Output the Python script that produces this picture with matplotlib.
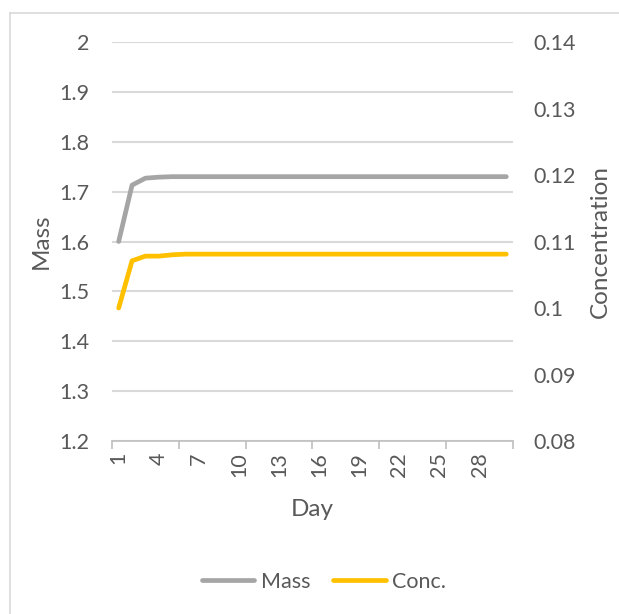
import matplotlib
matplotlib.use("Agg")
import matplotlib.pyplot as plt
from matplotlib.lines import Line2D
from matplotlib.ticker import FixedLocator, FuncFormatter

plt.rcParams['font.family'] = ['Lato', 'DejaVu Sans']

days = list(range(1, 31))
mass = [1.600, 1.713, 1.727, 1.729, 1.730] + [1.730] * 25
conc = [0.1000, 0.1071, 0.1078, 0.1078, 0.1080] + [0.1081] * 25
day_labels = [1, 4, 7, 10, 13, 16, 19, 22, 25, 28]
mass_ticks = [1.2, 1.3, 1.4, 1.5, 1.6, 1.7, 1.8, 1.9, 2.0]
conc_ticks = [0.08, 0.09, 0.10, 0.11, 0.12, 0.13, 0.14]

TXT = '#595959'
GRID = '#d9d9d9'
AXIS = '#bfbfbf'
GRAY = '#a5a5a5'
GOLD = '#ffc000'

TICK_FS = 15.5
TITLE_FS = 17.5
LEGEND_FS = 15.5

W, H = 619, 614
fig = plt.figure(figsize=(W / 100, H / 100), dpi=100)

# chart border (left and top edges)
fig.add_artist(Line2D([10 / W, 10 / W], [0, 1 - 13 / H], color='#d9d9d9', lw=1.2,
                      transform=fig.transFigure))
fig.add_artist(Line2D([10 / W, 1], [1 - 13 / H, 1 - 13 / H], color='#d9d9d9', lw=1.2,
                      transform=fig.transFigure))

left, right, top, bottom = 112, 513, 42, 441
aw, ah = right - left, bottom - top
ax = fig.add_axes([left / W, 1 - bottom / H, aw / W, ah / H])
ax2 = ax.twinx()

ax.set_xlim(0.5, 30.5)
ax.set_ylim(1.2, 2.0)
ax2.set_ylim(0.08, 0.14)

for s in ['top', 'right', 'left']:
    ax.spines[s].set_visible(False)
    ax2.spines[s].set_visible(False)
ax2.spines['bottom'].set_visible(False)
ax.spines['bottom'].set_color(AXIS)
ax.spines['bottom'].set_linewidth(1.2)

fmt = FuncFormatter(lambda v, p: f"{v:g}")

ax.set_yticks(mass_ticks)
ax.yaxis.set_major_formatter(fmt)
ax.grid(axis='y', color=GRID, lw=1.5)
ax.set_axisbelow(True)
ax.tick_params(axis='y', length=0, pad=16, labelsize=TICK_FS, labelcolor=TXT)

ax2.set_yticks(conc_ticks)
ax2.yaxis.set_major_formatter(fmt)
ax2.tick_params(axis='y', length=0, pad=15, labelsize=TICK_FS, labelcolor=TXT)

ax.xaxis.set_major_locator(FixedLocator(day_labels))
ax.set_xticklabels([str(d) for d in day_labels], rotation=90)
ax.xaxis.set_minor_locator(FixedLocator([0.5 + 5 * i for i in range(7)]))
ax.tick_params(axis='x', which='major', length=0, pad=8, labelsize=TICK_FS, labelcolor=TXT)
ax.tick_params(axis='x', which='minor', length=6, width=1.2, color=AXIS)

l1, = ax.plot(days, mass, color=GRAY, lw=3.4, solid_capstyle='round',
              solid_joinstyle='round', label='Mass', zorder=3)
l2, = ax2.plot(days, conc, color=GOLD, lw=3.4, solid_capstyle='round',
               solid_joinstyle='round', label='Conc.', zorder=3)

ax.set_xlabel('Day', fontsize=TITLE_FS, color=TXT)
ax.set_ylabel('Mass', fontsize=TITLE_FS, color=TXT)
ax2.set_ylabel('Concentration', fontsize=TITLE_FS, color=TXT)
ax.xaxis.set_label_coords(0.5, (bottom - 499) / ah)
ax.yaxis.set_label_coords((52 - left) / aw, 0.5)
ax2.yaxis.set_label_coords((590 - left) / aw, 0.5)

fig.legend(handles=[l1, l2], labels=['Mass', 'Conc.'], loc='center',
           bbox_to_anchor=(324 / W, 1 - 582 / H), ncol=2, frameon=False,
           fontsize=LEGEND_FS, labelcolor=TXT, handlelength=2.45, handletextpad=0.3,
           columnspacing=1.05)

fig.savefig('out.png', dpi=100, facecolor='white')
